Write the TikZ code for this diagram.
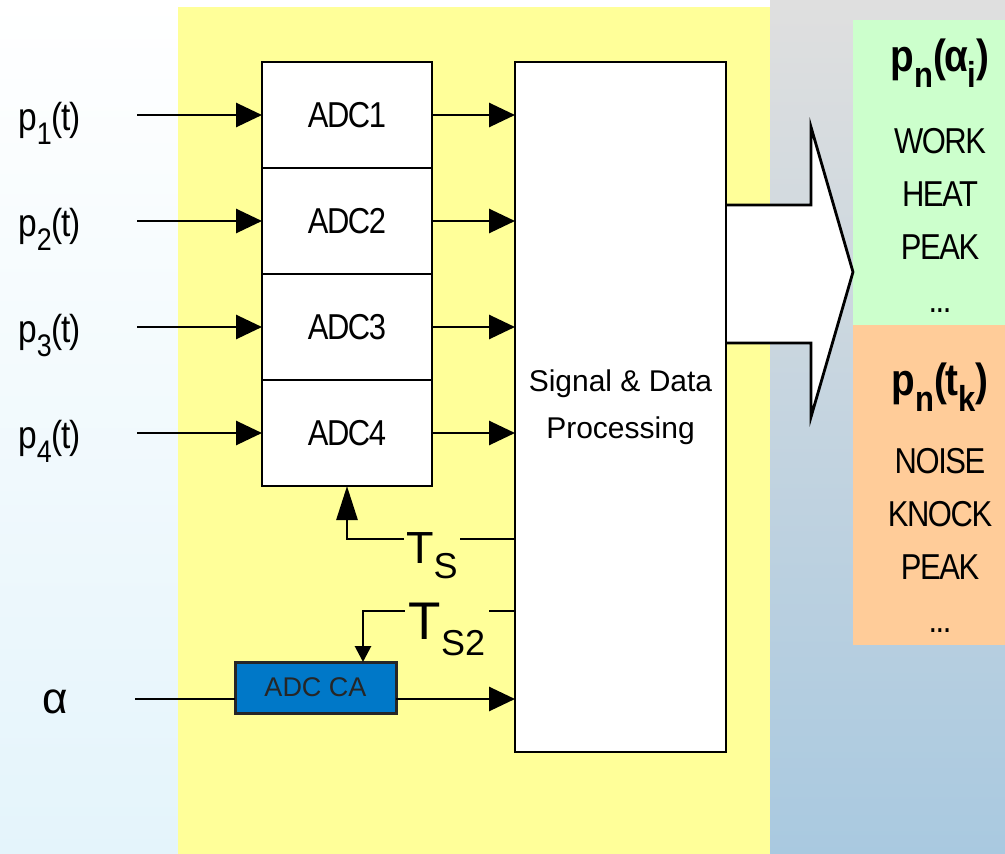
\documentclass[tikz,border=0pt]{standalone}
\usepackage{fontspec}
\usepackage{graphicx}
\setmainfont{Liberation Sans}
\newfontfamily\narrowfont{Liberation Sans}[FakeStretch=0.86,LetterSpace=-4]
\usetikzlibrary{arrows.meta,positioning}
\definecolor{padyellow}{HTML}{FFFF99}
\definecolor{angleg}{HTML}{CCFFCC}
\definecolor{timeo}{HTML}{FFCC99}
\definecolor{cablue}{HTML}{0078C8}
\definecolor{skyblue}{HTML}{BCD4E4}
\definecolor{skylight}{HTML}{E4F4FB}
\definecolor{skydeep}{HTML}{A9C9E0}
\newcommand{\fsz}[1]{\fontsize{#1}{#1}\selectfont}
\newcommand{\lowsub}[1]{\raisebox{-0.36em}{\scalebox{0.8}{#1}}}
\tikzset{
  adcbox/.style ={draw, line width=2.8pt, fill=white, outer sep=0pt, minimum width=170pt, minimum height=106pt, font=\narrowfont\fsz{36}},
  procbox/.style={draw, line width=2.8pt, fill=white, outer sep=0pt, minimum width=211pt, minimum height=690pt, align=center, font=\fontsize{30}{47}\selectfont},
  cabox/.style  ={draw=black!85, line width=3pt, fill=cablue, outer sep=0pt, minimum width=161pt, minimum height=51pt, text=black!85, font=\fsz{27}},
  inlbl/.style  ={anchor=base west, inner sep=0pt, font=\narrowfont\fsz{39}},
  clklbl/.style ={inner xsep=2pt, inner ysep=0pt, text depth=0pt},
  reshead/.style={inner sep=0pt, font=\narrowfont\bfseries\fsz{45}},
  reslist/.style={inner sep=0pt, align=center, font=\narrowfont\fontsize{36}{53}\selectfont},
  sig/.style    ={-{Triangle[length=26pt,width=24pt]}, line width=2.8pt},
  clk/.style    ={line width=2.8pt},
}

\begin{document}
\begin{tikzpicture}[x=1pt,y=-1pt]
  % backdrop
  \useasboundingbox (0,0) rectangle (1005,854);
  \shade[top color=white, middle color=skyblue, bottom color=skylight] (0,0) rectangle (1005,854);
  \shade[top color=gray!25, bottom color=skydeep] (770,0) rectangle (1005,854);
  \fill[padyellow] (178,7) rectangle (770,854);
  \fill[angleg] (853,20) rectangle (1005,325);
  \fill[timeo] (853,325) rectangle (1005,645);
  % output arrow
  \draw[line width=2.8pt, fill=white] (726,205) -- (811,205) -- (811,127) -- (853,272)
    -- (811,417) -- (811,343) -- (726,343);

  % converters
  \node[adcbox] (adc1) at (347,115) {ADC1};
  \node[adcbox, below=0pt of adc1] (adc2) {ADC2};
  \node[adcbox, below=0pt of adc2] (adc3) {ADC3};
  \node[adcbox, below=0pt of adc3] (adc4) {ADC4};
  \node[procbox, right=83pt of adc1.north east, anchor=north west] (sdp) {Signal \& Data\\Processing};
  \node[cabox, anchor=north west] (adcca) at (235,662) {ADC CA};

  % inputs
  \coordinate[left=125pt of adc1.west] (in1);
  \coordinate[left=125pt of adc2.west] (in2);
  \coordinate[left=125pt of adc3.west] (in3);
  \coordinate[left=125pt of adc4.west] (in4);
  \coordinate (ain) at (135,699);
  \node[inlbl] (p1) at (18,130) {p\lowsub{1}(t)};
  \node[inlbl] (p2) at (18,236) {p\lowsub{2}(t)};
  \node[inlbl] (p3) at (18,342) {p\lowsub{3}(t)};
  \node[inlbl] (p4) at (18,448) {p\lowsub{4}(t)};
  \node[inlbl, font=\fsz{44}] (alpha) at (42,713) {α};
  \draw[sig] (in1) -- (adc1);
  \draw[sig] (in2) -- (adc2);
  \draw[sig] (in3) -- (adc3);
  \draw[sig] (in4) -- (adc4);
  \draw[clk] (ain) -- (ain -| adcca.west);

  % to processing
  \draw[sig] (adc1) -- (sdp.west |- adc1);
  \draw[sig] (adc2) -- (sdp.west |- adc2);
  \draw[sig] (adc3) -- (sdp.west |- adc3);
  \draw[sig] (adc4) -- (sdp.west |- adc4);
  \draw[sig] (adcca.east |- ain) -- (sdp.west |- ain);

  % sampling clocks
  \node[clklbl, text height=16pt] (ts) at (432,539) {\fsz{45}\raisebox{-16pt}{T}\raisebox{-31pt}{\fsz{36}S}};
  \node[clklbl, inner xsep=4pt, text height=19pt] (ts2) at (447,611) {\fsz{53}\raisebox{-19pt}{T}\raisebox{-35pt}{\fsz{36}S2}};
  \draw[clk] (sdp.west |- ts) -- (ts);
  \draw[clk, -{Triangle[length=34pt,width=21pt]}] (ts) -| (adc4);
  \draw[clk] (sdp.west |- ts2) -- (ts2);
  \draw[clk, -{Triangle[length=16pt,width=16pt]}] (ts2) -| ([xshift=-33pt]adcca.north east);

  % results
  \node[reshead] (hdang) at (940,63) {p\lowsub{n}(α\lowsub{i})};
  \node[reslist] (lstang) at (940,220) {WORK\\HEAT\\PEAK\\...};
  \node[reshead] (hdtime) at (940,387) {p\lowsub{n}(t\lowsub{k})};
  \node[reslist] (lsttime) at (940,540) {NOISE\\KNOCK\\PEAK\\...};
\end{tikzpicture}
\end{document}
